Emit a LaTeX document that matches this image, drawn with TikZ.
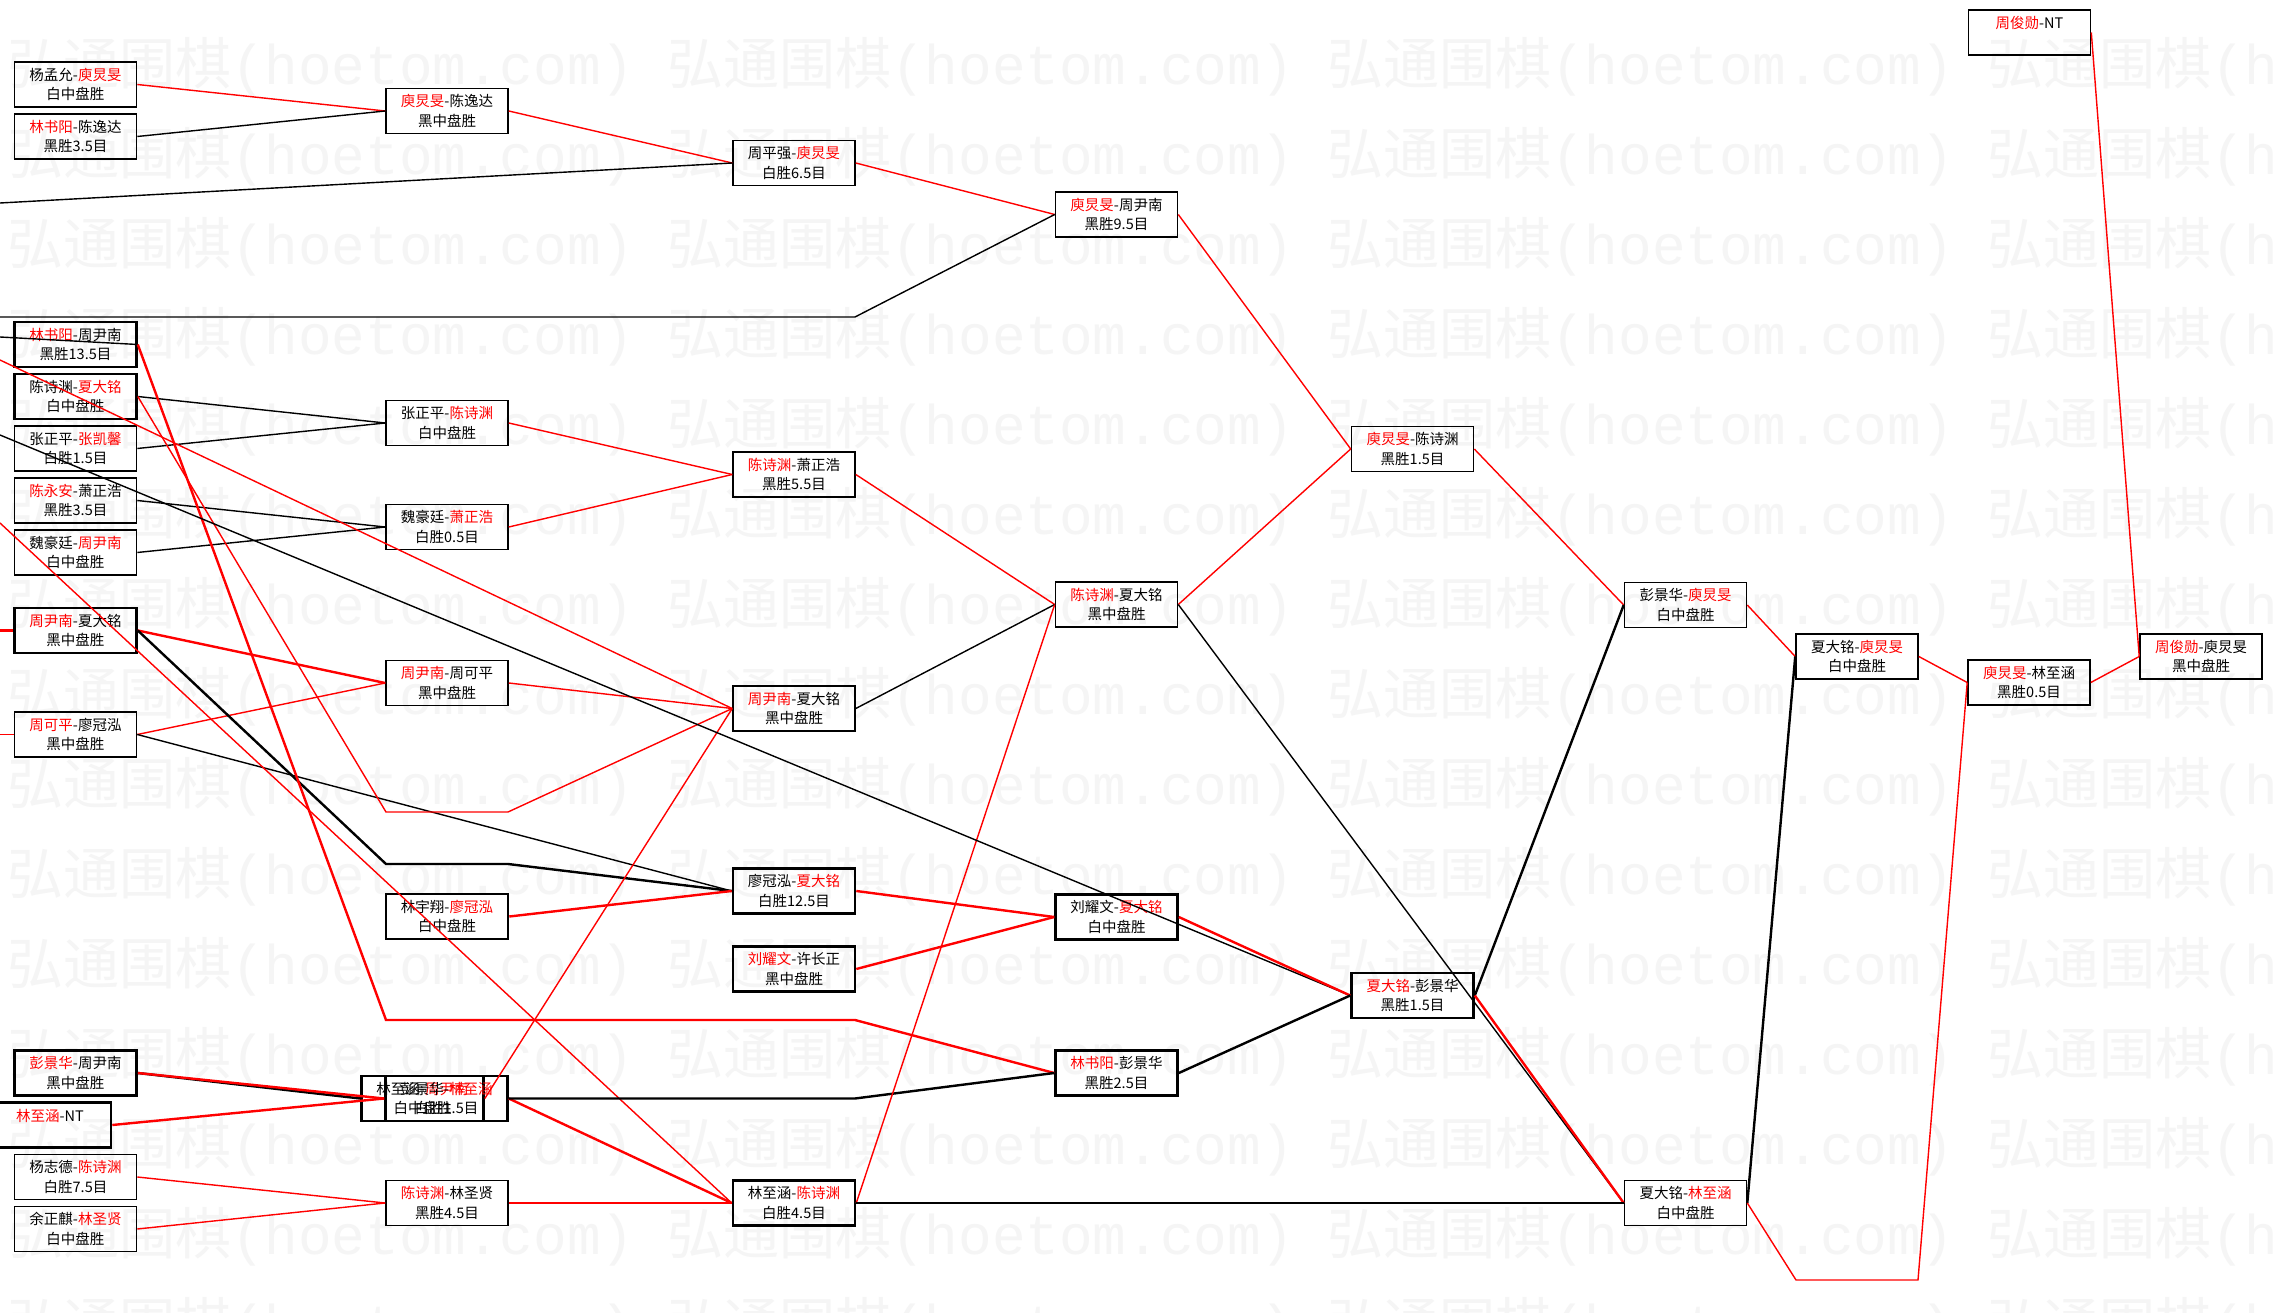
\documentclass[tikz,border=0pt]{standalone}
\usepackage{fontspec}
\newfontfamily\cjk{Noto Sans CJK SC}
\newfontfamily\wmono{Liberation Mono}
\definecolor{wred}{HTML}{FF0000}
\newcommand\redname[1]{\textcolor{wred}{#1}}
\begin{document}
\begin{tikzpicture}[x=1pt,y=-1pt,
  box/.style={draw=black, line width=1.6pt, minimum width=122pt, minimum height=45pt, inner sep=0pt, align=center, font=\cjk\fontsize{14.5}{19.5}\selectfont},
  tbox/.style={box, line width=2.6pt},
  rl/.style={draw=wred, line width=1.4pt},
  bl/.style={draw=black, line width=1.4pt},
  trl/.style={draw=wred, line width=2.4pt},
  tbl/.style={draw=black, line width=2.4pt},
  wmk/.style={anchor=west, text=black!4, font=\cjk\fontsize{56}{56}\selectfont, inner sep=0pt}
]
\useasboundingbox (0,0) rectangle (2273,1313);
\fill[white] (0,0) rectangle (2273,1313);

% watermark
\foreach \j in {0,...,14}{
  \foreach \k in {0,...,3}{
    \node[wmk] (w\j-\k) at ({7+660*\k},{67+90*\j}) {弘通围棋{\wmono(hoetom.com)}};
  }
}

% off-screen origins and bends
\coordinate (o1) at (0,203);
\coordinate (o2) at (0,317);
\coordinate (o3) at (0,337);
\coordinate (o4) at (0,360);
\coordinate (o5) at (0,435);
\coordinate (o6) at (0,523);
\coordinate (o7) at (0,630.5);
\coordinate (o8) at (0,734.5);
\coordinate (L2b) at (855,317);
\coordinate (R1a) at (386,1020);
\coordinate (R1b) at (855,1020);
\coordinate (R2a) at (386,812);
\coordinate (R2b) at (508,812);
\coordinate (K1a) at (386,864);
\coordinate (K1b) at (508,864);
\coordinate (K2) at (855,1098.5);
\coordinate (K3a) at (1796,1280);
\coordinate (K3b) at (1918,1280);

% nodes (no fill, so lines show through as in the reference)
\node[box]  (A1)  at (75.5,84.5)   {杨孟允-\redname{庾炅旻}\\白中盘胜};
\node[box]  (A2)  at (75.5,136.5)  {\redname{林书阳}-陈逸达\\黑胜3.5目};
\node[tbox] (A3)  at (75.5,344.5)  {\redname{林书阳}-周尹南\\黑胜13.5目};
\node[tbox] (A4)  at (75.5,396.5)  {陈诗渊-\redname{夏大铭}\\白中盘胜};
\node[box]  (A5)  at (75.5,448.5)  {张正平-\redname{张凯馨}\\白胜1.5目};
\node[box]  (A6)  at (75.5,500.5)  {\redname{陈永安}-萧正浩\\黑胜3.5目};
\node[box]  (A7)  at (75.5,552.5)  {魏豪廷-\redname{周尹南}\\白中盘胜};
\node[tbox] (A8)  at (75.5,630.5)  {\redname{周尹南}-夏大铭\\黑中盘胜};
\node[box]  (A9)  at (75.5,734.5)  {\redname{周可平}-廖冠泓\\黑中盘胜};
\node[tbox] (A10) at (75.5,1073)   {\redname{彭景华}-周尹南\\黑中盘胜};
\node[tbox] (A11) at (50,1125)     {\redname{林至涵}-NT\\\mbox{}};
\node[box]  (A12) at (75.5,1177)   {杨志德-\redname{陈诗渊}\\白胜7.5目};
\node[box]  (A13) at (75.5,1229)   {余正麒-\redname{林圣贤}\\白中盘胜};

\node[box]  (B1)  at (447,111)     {\redname{庾炅旻}-陈逸达\\黑中盘胜};
\node[box]  (B2)  at (447,423)     {张正平-\redname{陈诗渊}\\白中盘胜};
\node[box]  (B3)  at (447,527)     {魏豪廷-\redname{萧正浩}\\白胜0.5目};
\node[box]  (B4)  at (447,683)     {\redname{周尹南}-周可平\\黑中盘胜};
\node[tbox] (B5)  at (447,916.5)   {林宇翔-\redname{廖冠泓}\\白中盘胜};
\node[tbox] (B6a) at (422.5,1098.5){林至涵-\redname{周尹南}\\白中盘胜};
\node[tbox] (B6b) at (446.5,1098.5){彭景华-\redname{林至涵}\\白胜1.5目};
\node[box]  (B7)  at (447,1203)    {\redname{陈诗渊}-林圣贤\\黑胜4.5目};

\node[box]  (C1)  at (794,163)     {周平强-\redname{庾炅旻}\\白胜6.5目};
\node[box]  (C2)  at (794,474.5)   {\redname{陈诗渊}-萧正浩\\黑胜5.5目};
\node[box]  (C3)  at (794,708.5)   {\redname{周尹南}-夏大铭\\黑中盘胜};
\node[tbox] (C4)  at (794,891)     {廖冠泓-\redname{夏大铭}\\白胜12.5目};
\node[tbox] (C5)  at (794,969)     {\redname{刘耀文}-许长正\\黑中盘胜};
\node[tbox] (C6)  at (794,1203)    {林至涵-\redname{陈诗渊}\\白胜4.5目};

\node[box]  (D1)  at (1116.5,214.5){\redname{庾炅旻}-周尹南\\黑胜9.5目};
\node[box]  (D2)  at (1116.5,604.5){\redname{陈诗渊}-夏大铭\\黑中盘胜};
\node[tbox] (D3)  at (1116.5,917)  {刘耀文-\redname{夏大铭}\\白中盘胜};
\node[tbox] (D4)  at (1116.5,1073) {\redname{林书阳}-彭景华\\黑胜2.5目};

\node[box]  (E1)  at (1412.5,449)  {\redname{庾炅旻}-陈诗渊\\黑胜1.5目};
\node[tbox] (E2)  at (1412.5,995.5){\redname{夏大铭}-彭景华\\黑胜1.5目};

\node[box]  (F1)  at (1685.5,605)  {彭景华-\redname{庾炅旻}\\白中盘胜};
\node[box]  (F2)  at (1685.5,1203) {夏大铭-\redname{林至涵}\\白中盘胜};

\node[box]  (G1)  at (1857,656.5)  {夏大铭-\redname{庾炅旻}\\白中盘胜};

\node[box]  (H0)  at (2029.5,32.5) {\redname{周俊勋}-NT\\\mbox{}};
\node[box]  (H1)  at (2029,682.5)  {\redname{庾炅旻}-林至涵\\黑胜0.5目};

\node[box]  (I1)  at (2201,656.5)  {\redname{周俊勋}-庾炅旻\\黑中盘胜};

% ---------- connectors ----------
\path[rl] (A1.east) -- (B1.west);
\path[bl] (A2.east) -- (B1.west);
\path[bl] (o3) -- (A3.east);
\path[bl] (A4.east) -- (B2.west);
\path[bl] (A5.east) -- (B2.west);
\path[bl] (A6.east) -- (B3.west);
\path[bl] (A7.east) -- (B3.west);
\path[trl] (o7) -- (A8.west);
\path[rl] (o8) -- (A9.west);
\path[trl] (A8.east) -- (B4.west);
\path[rl] (A9.east) -- (B4.west);
\path[tbl] (A8.east) -- (K1a) -- (K1b) -- (C4.west);
\path[bl] (A9.east) -- (C4.west);
\path[tbl] (A10.east) -- (B6a.west);
\path[trl] (A10.east) -- (B6b.west);
\path[trl] (A11.east) -- (B6b.west);
\path[rl] (A12.east) -- (B7.west);
\path[rl] (A13.east) -- (B7.west);
\path[trl] (A3.east) -- (R1a) -- (R1b) -- (D4.west);
\path[rl] (A4.east) -- (R2a) -- (R2b) -- (C3.west);

\path[rl] (B1.east) -- (C1.west);
\path[bl] (o1) -- (C1.west);
\path[rl] (B2.east) -- (C2.west);
\path[rl] (B3.east) -- (C2.west);
\path[rl] (B4.east) -- (C3.west);
\path[rl] (o4) -- (C3.west);
\path[rl] (B6a.east) -- (C3.west);
\path[trl] (B5.east) -- (C4.west);
\path[rl] (o6) -- (C6.west);
\path[trl] (B6b.east) -- (C6.west);
\path[trl] (B7.east) -- (C6.west);
\path[tbl] (B6b.east) -- (K2) -- (D4.west);

\path[rl] (C1.east) -- (D1.west);
\path[bl] (o2) -- (L2b) -- (D1.west);
\path[rl] (C2.east) -- (D2.west);
\path[bl] (C3.east) -- (D2.west);
\path[rl] (C6.east) -- (D2.west);
\path[trl] (C4.east) -- (D3.west);
\path[trl] (C5.east) -- (D3.west);

\path[rl] (D1.east) -- (E1.west);
\path[rl] (D2.east) -- (E1.west);
\path[bl] (o5) -- (E2.west);
\path[trl] (D3.east) -- (E2.west);
\path[tbl] (D4.east) -- (E2.west);

\path[rl] (E1.east) -- (F1.west);
\path[tbl] (E2.east) -- (F1.west);
\path[bl] (D2.east) -- (F2.west);
\path[trl] (E2.east) -- (F2.west);
\path[tbl] (C6.east) -- (F2.west);

\path[rl] (F1.east) -- (G1.west);
\path[tbl] (F2.east) -- (G1.west);
\path[rl] (G1.east) -- (H1.west);
\path[rl] (F2.east) -- (K3a) -- (K3b) -- (H1.west);
\path[rl] (H1.east) -- (I1.west);
\path[rl] (H0.east) -- (I1.west);
\end{tikzpicture}
\end{document}
